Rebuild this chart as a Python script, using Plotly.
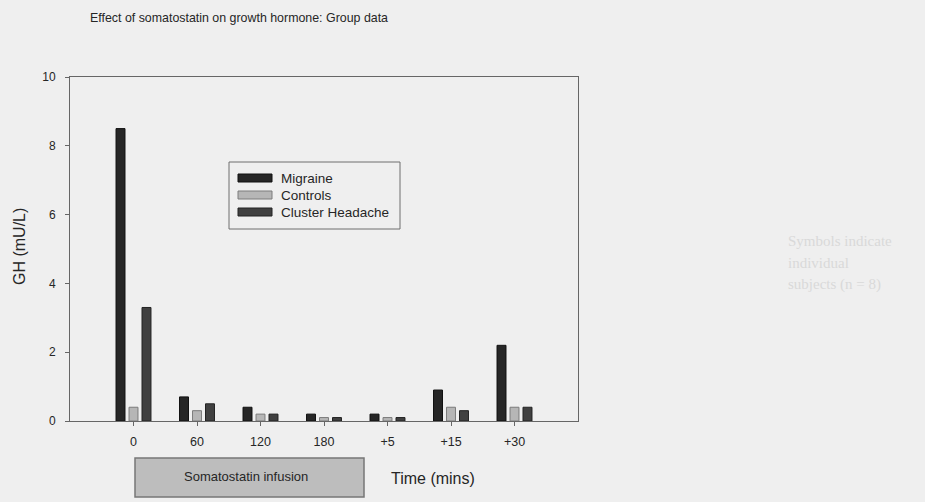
import plotly.graph_objects as go

# ---- data ----
time_labels = ["0", "60", "120", "180", "+5", "+15", "+30"]
migraine = [8.5, 0.7, 0.4, 0.2, 0.2, 0.9, 2.2]
controls = [0.4, 0.3, 0.2, 0.1, 0.1, 0.4, 0.4]
cluster = [3.3, 0.5, 0.2, 0.1, 0.1, 0.3, 0.4]
series_names = ["Migraine", "Controls", "Cluster Headache"]
y_ticks = [0, 2, 4, 6, 8, 10]

fills = ["#262626", "#b6b6b6", "#404040"]
edges = ["#111111", "#7c7c7c", "#222222"]
BG = "#efefef"
FONT = "Liberation Sans, Arial, sans-serif"

fig = go.Figure()
for name, vals, fc, ec in zip(series_names, [migraine, controls, cluster], fills, edges):
    fig.add_trace(go.Bar(
        x=time_labels, y=vals, name=name,
        marker=dict(color=fc, line=dict(color=ec, width=1)),
        showlegend=False,
    ))

# plot area in pixels: x 70..578, y 77..421
L, R, T, B = 70, 578, 77, 421
W, H = 925, 502
def px(x):
    return (x - L) / (R - L)
def py(y):
    return (B - y) / (B - T)

shapes = []
annotations = []

# manual legend (box + swatches + text)
shapes.append(dict(type="rect", xref="paper", yref="paper",
                   x0=px(229), x1=px(400), y0=py(229), y1=py(162),
                   line=dict(color="#6e6e6e", width=1), fillcolor=BG, layer="above"))
rows = [178, 195, 212]
for name, fc, ec, ry in zip(series_names, fills, edges, rows):
    shapes.append(dict(type="rect", xref="paper", yref="paper",
                       x0=px(238), x1=px(272), y0=py(ry + 4), y1=py(ry - 4),
                       line=dict(color=ec, width=1), fillcolor=fc, layer="above"))
    annotations.append(dict(x=px(279), y=py(ry), xref="paper", yref="paper",
                            text=name, showarrow=False, xanchor="left", yanchor="middle",
                            font=dict(family=FONT, size=13.5, color="#262626")))

# Somatostatin infusion box
shapes.append(dict(type="rect", xref="paper", yref="paper",
                   x0=px(135), x1=px(364), y0=py(497), y1=py(458),
                   line=dict(color="#777777", width=1.5), fillcolor="#bdbdbd"))
annotations.append(dict(x=px(246), y=py(476), xref="paper", yref="paper",
                        text="Somatostatin infusion", showarrow=False,
                        xanchor="center", yanchor="middle",
                        font=dict(family=FONT, size=13, color="#262626")))
annotations.append(dict(x=px(389), y=py(478), xref="paper", yref="paper",
                        text="Time (mins)", showarrow=False,
                        xanchor="left", yanchor="middle",
                        font=dict(family=FONT, size=16, color="#262626")))

# y axis title
annotations.append(dict(x=px(19), y=py(247), xref="paper", yref="paper",
                        text="GH (mU/L)", showarrow=False, textangle=-90,
                        xanchor="center", yanchor="middle",
                        font=dict(family=FONT, size=16, color="#262626")))

# chart title
annotations.append(dict(x=px(88), y=py(18), xref="paper", yref="paper",
                        text="Effect of somatostatin on growth hormone: Group data",
                        showarrow=False, xanchor="left", yanchor="middle",
                        font=dict(family=FONT, size=12.4, color="#262626")))

# faint bleed-through text from the scanned page
for txt, yy in [("Symbols indicate", 241), ("individual", 263), ("subjects (n = 8)", 284)]:
    annotations.append(dict(x=px(786), y=py(yy), xref="paper", yref="paper",
                            text=txt, showarrow=False, xanchor="left", yanchor="middle",
                            font=dict(family="Liberation Serif, serif", size=15, color="#d9d9d9")))

fig.update_layout(
    width=W, height=H,
    margin=dict(l=L, r=W - R, t=T, b=H - B, pad=0),
    paper_bgcolor=BG, plot_bgcolor=BG,
    barmode="group", bargap=0.386, bargroupgap=0.31,
    shapes=shapes, annotations=annotations,
    font=dict(family=FONT, color="#262626"),
)
fig.update_xaxes(
    type="category", range=[-1, 7],
    showline=True, linecolor="#666666", linewidth=1, mirror=True,
    ticks="outside", ticklen=4, tickcolor="#666666",
    showgrid=False, zeroline=False, ticklabelstandoff=5,
    tickfont=dict(family=FONT, size=12.5, color="#262626"),
)
fig.update_yaxes(
    range=[0, 10], tickvals=y_ticks,
    showline=True, linecolor="#666666", linewidth=1, mirror=True,
    ticks="outside", ticklen=4, tickcolor="#666666",
    showgrid=False, zeroline=False, ticklabelstandoff=7,
    tickfont=dict(family=FONT, size=12, color="#262626"),
)

fig.write_html(
    "out.html",
    config={"displayModeBar": False},
    post_script="document.body.style.margin='0';document.body.style.background='#efefef';document.body.style.overflow='hidden';",
)
